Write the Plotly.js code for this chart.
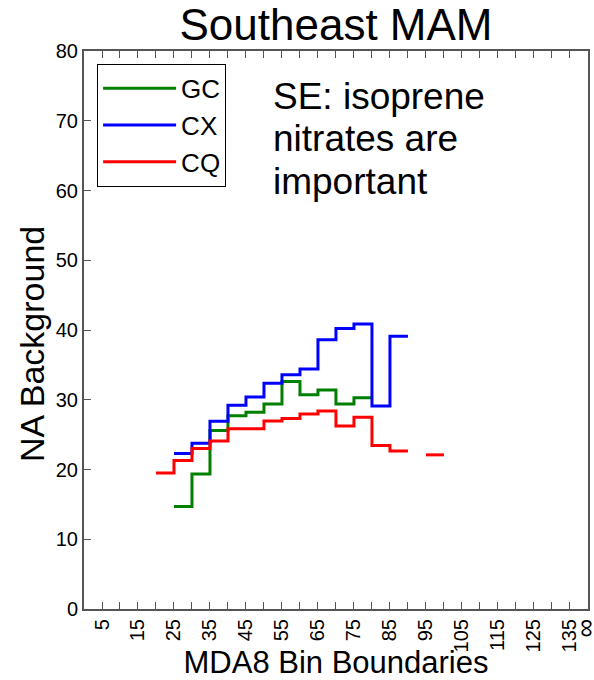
<!DOCTYPE html>
<html>
<head>
<meta charset="utf-8">
<script src="https://cdn.plot.ly/plotly-3.0.1.min.js"></script>
<style>html,body{margin:0;padding:0;background:#fff;}#chart{width:594px;height:680px;}</style>
</head>
<body>
<div id="chart"></div>
<script>
// Bin lower edges (MDA8, ppb), each bin is 5 wide
const binLower = [20, 25, 30, 35, 40, 45, 50, 55, 60, 65, 70, 75, 80, 85, 90, 95];
const binWidth = 5;
const seriesNames = ['GC', 'CX', 'CQ'];
const gcValues = [null, 14.7, 19.35, 25.6, 27.7, 28.2, 29.4, 32.6, 30.7, 31.4, 29.4, 30.3, null, null, null, null];
const cxValues = [null, 22.3, 23.75, 26.9, 29.2, 30.4, 32.35, 33.6, 34.4, 38.6, 40.2, 40.85, 29.1, 39.1, null, null];
const cqValues = [19.5, 21.3, 23.0, 24.1, 25.85, 25.85, 26.95, 27.3, 27.95, 28.4, 26.25, 27.5, 23.45, 22.65, null, 22.1];
const tickVals = [5, 15, 25, 35, 45, 55, 65, 75, 85, 95, 105, 115, 125, 135, 140];
const tickText = ['5', '15', '25', '35', '45', '55', '65', '75', '85', '95', '105', '115', '125', '135',
                  '<span style="font-size:26px">\u221E</span>'];
const noteLines = ['SE: isoprene', 'nitrates are', 'important'];
const colors = ['#008000', '#0000ff', '#ff0000'];

function stepXY(values) {
  const x = [], y = [];
  values.forEach((v, i) => {
    if (v === null) { x.push(null); y.push(null); return; }
    x.push(binLower[i], binLower[i] + binWidth);
    y.push(v, v);
  });
  return {x, y};
}

const traces = [gcValues, cxValues, cqValues].map((vals, k) => {
  const s = stepXY(vals);
  return {
    x: s.x, y: s.y, type: 'scatter', mode: 'lines', name: seriesNames[k],
    line: {color: colors[k], width: 3}, connectgaps: false
  };
});

const font = 'Liberation Sans, Arial, sans-serif';
const noteY = [0.9588, 0.8835, 0.8065];
const annotations = noteLines.map((t, i) => ({
  text: t, xref: 'paper', yref: 'paper',
  x: 0.372, y: noteY[i], xanchor: 'left', yanchor: 'top', align: 'left', showarrow: false,
  font: {size: 37, family: font, color: '#000'}
}));
annotations.push({
  text: 'NA Background', xref: 'paper', yref: 'paper', x: -0.103, y: 0.475,
  xanchor: 'center', yanchor: 'middle', textangle: -90, showarrow: false,
  font: {size: 34, family: font, color: '#000'}
});

const layout = {
  width: 594, height: 680,
  margin: {l: 84, r: 6, t: 51, b: 71},
  paper_bgcolor: '#fff', plot_bgcolor: '#fff',
  font: {family: font, color: '#000'},
  title: {text: 'Southeast MAM', font: {size: 44, family: font, color: '#000'},
          x: 0.5, xref: 'paper', y: 0.986, yanchor: 'top', automargin: false},
  showlegend: true,
  legend: {x: 0.026, y: 0.977, xanchor: 'left', yanchor: 'top',
           bordercolor: '#000', borderwidth: 1, bgcolor: '#fff',
           font: {size: 26, family: font, color: '#000'}, itemwidth: 73},
  xaxis: {
    range: [0, 140.02], tickmode: 'array', tickvals: tickVals, ticktext: tickText,
    tickangle: -90, ticks: 'inside', ticklen: 7, tickwidth: 1, tickcolor: '#555',
    ticklabeloverflow: 'allow',
    minor: {dtick: 5, tick0: 0, ticks: 'inside', ticklen: 7, tickwidth: 1, tickcolor: '#555', showgrid: false},
    showline: true, linecolor: '#555', linewidth: 2, mirror: 'allticks',
    showgrid: false, zeroline: false,
    tickfont: {size: 20, family: font, color: '#000'},
    title: {text: 'MDA8 Bin Boundaries', font: {size: 31, family: font, color: '#000'}, standoff: 8}
  },
  yaxis: {
    range: [0, 80], tickmode: 'array', tickvals: [0, 10, 20, 30, 40, 50, 60, 70, 80],
    ticks: 'inside', ticklen: 7, tickwidth: 1, tickcolor: '#555',
    showline: true, linecolor: '#555', linewidth: 2, mirror: true,
    showgrid: false, zeroline: false,
    tickfont: {size: 20, family: font, color: '#000'}
  },
  annotations: annotations
};

Plotly.newPlot('chart', traces, layout, {staticPlot: true, displayModeBar: false});
</script>
</body>
</html>
